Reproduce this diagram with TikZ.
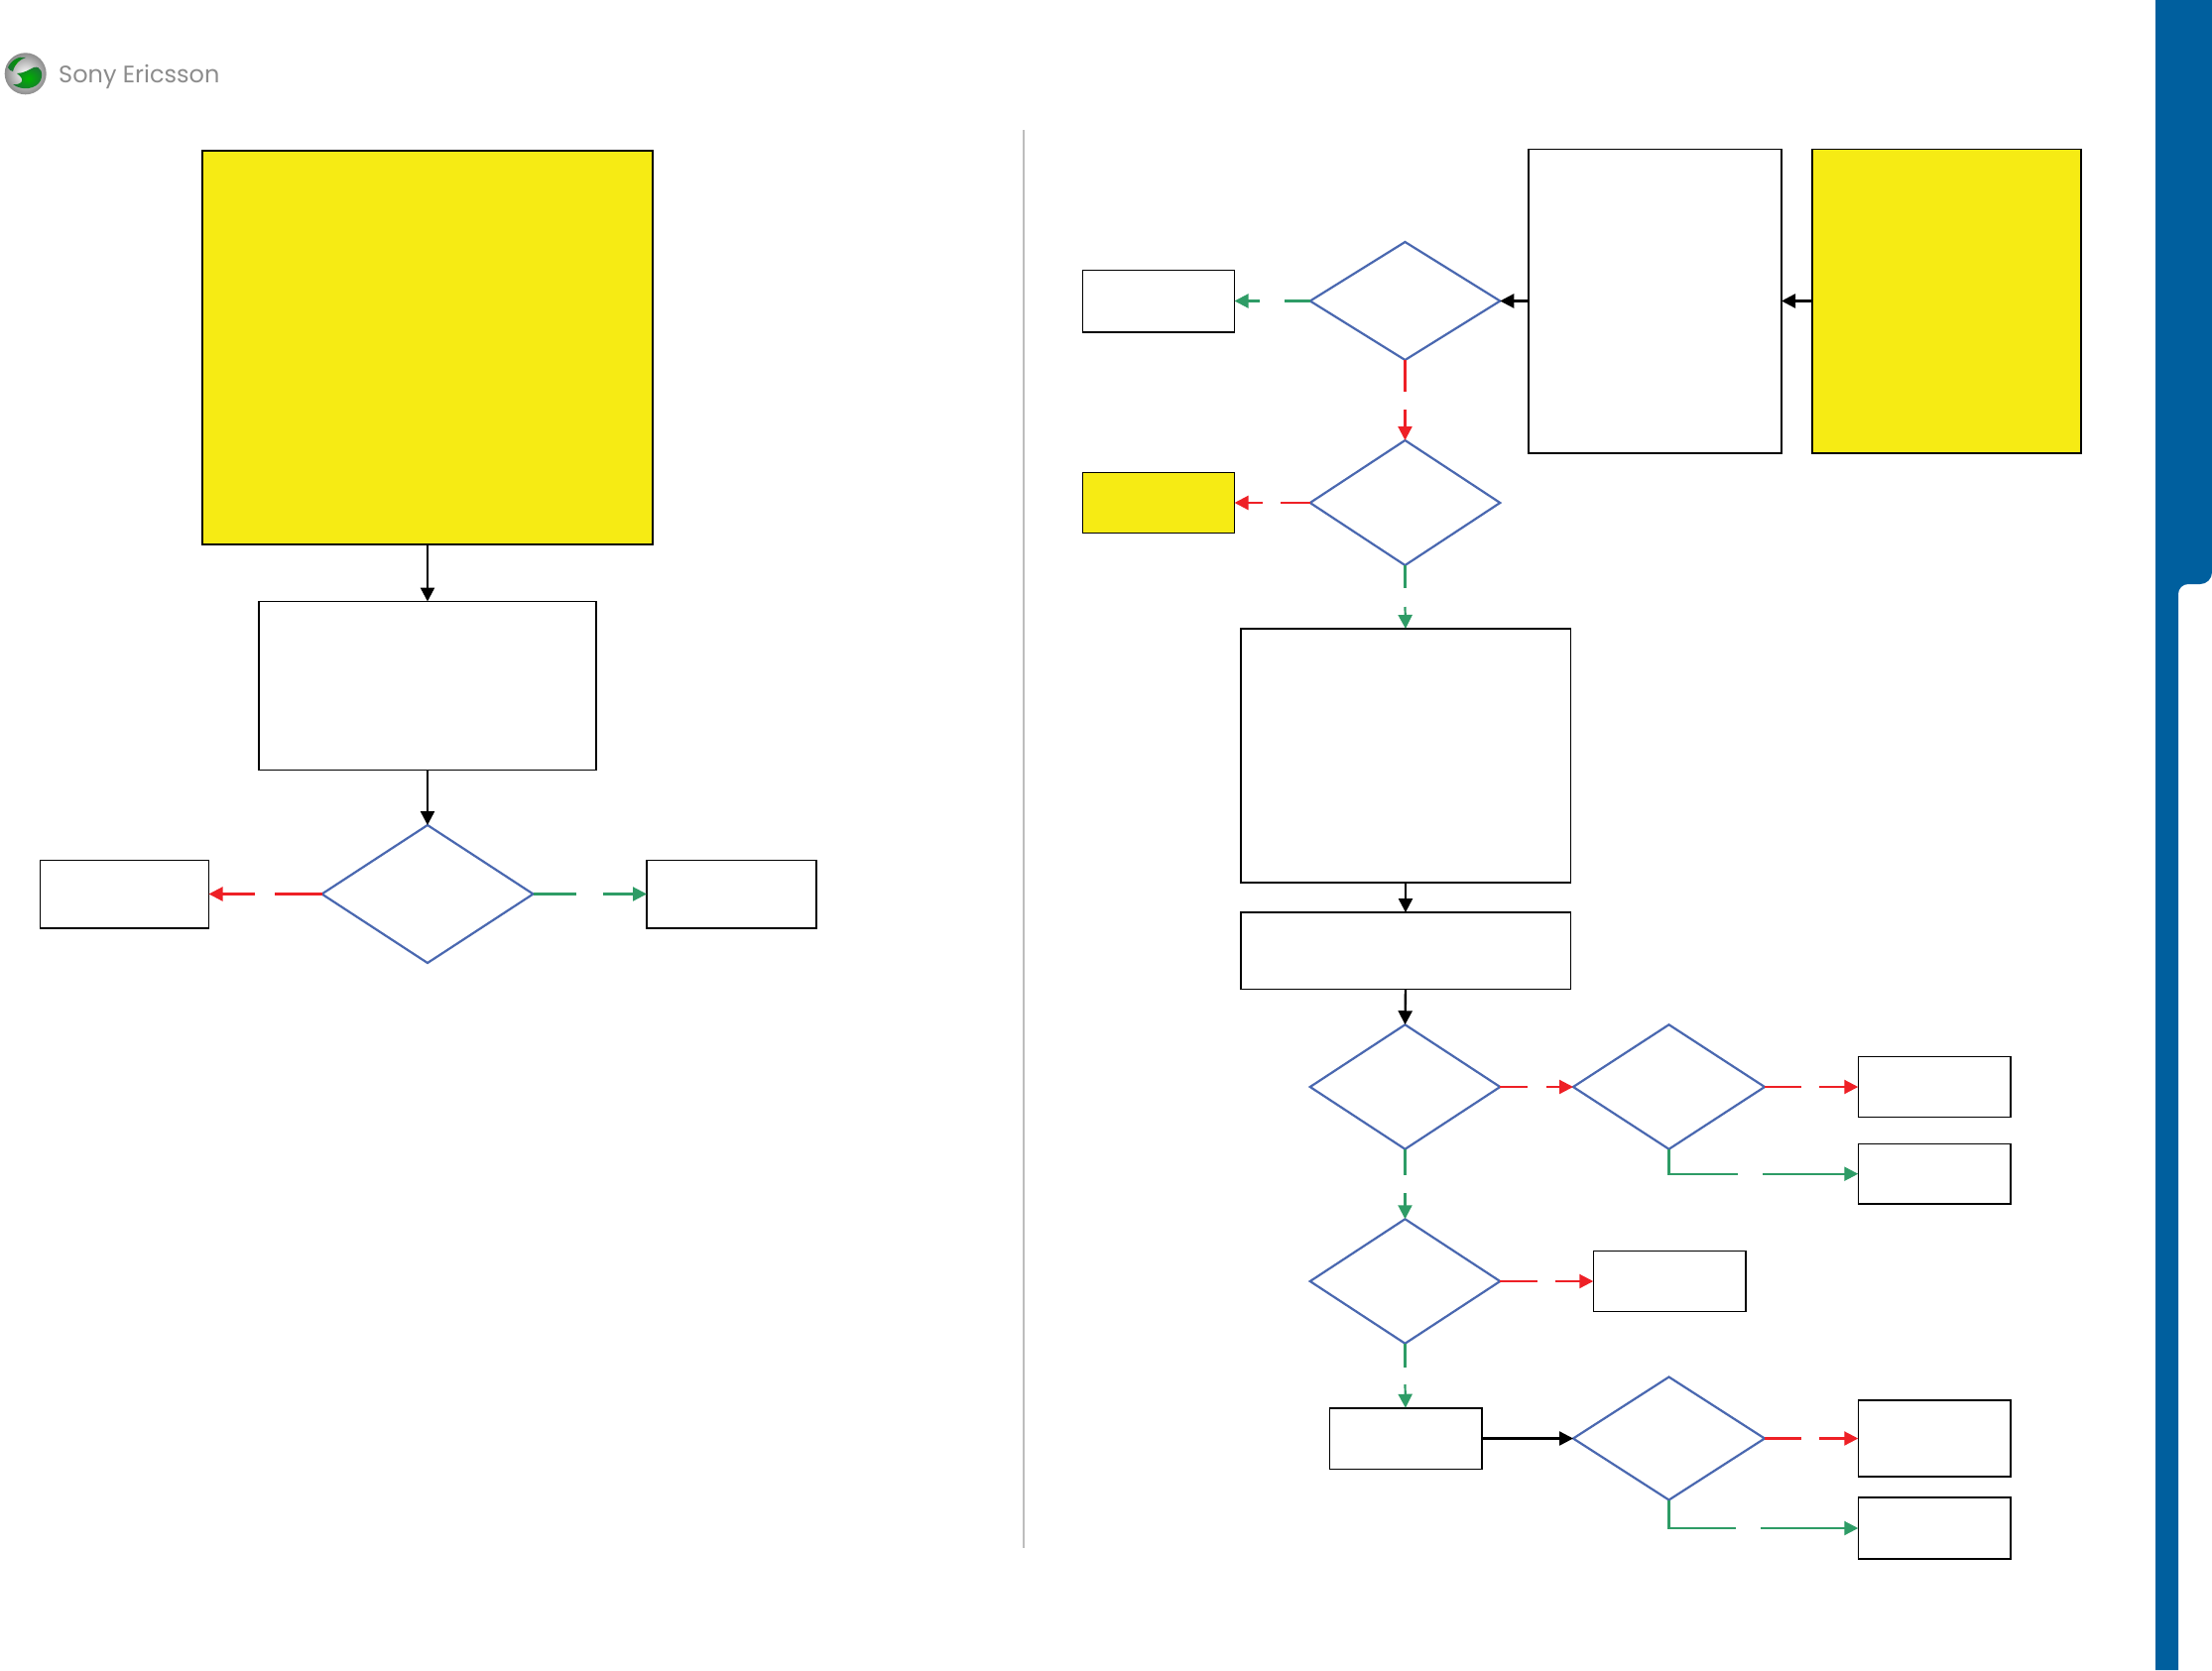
\documentclass[tikz,border=0pt]{standalone}
\usepackage{fontspec}
\setmainfont{Poppins}
\usetikzlibrary{shapes.geometric,arrows.meta}
\definecolor{seyellow}{HTML}{F6EB14}
\definecolor{seblue}{HTML}{4A68B0}
\definecolor{sered}{HTML}{EE2026}
\definecolor{segreen}{HTML}{2E9C66}
\definecolor{seband}{HTML}{005F9E}
\definecolor{segrey}{HTML}{BDBDBD}
\definecolor{logogreen}{HTML}{1E8A3C}
\definecolor{logotext}{HTML}{8C8C8C}
\tikzset{
  plainbox/.style={draw=black,line width=1.5pt,fill=white,rectangle,inner sep=0pt,outer sep=0pt},
  yellowbox/.style={plainbox,fill=seyellow},
  decision/.style={draw=seblue,line width=2.2pt,fill=white,diamond,inner sep=0pt,outer sep=0pt},
  sized/.style n args={2}{minimum width=#1pt,minimum height=#2pt},
  tip/.style={-{Triangle[length=14pt,width=14pt]}},
  blackline/.style={draw=black,line width=2.4pt},
  redline/.style={draw=sered,line width=2.2pt},
  greenline/.style={draw=segreen,line width=2.2pt},
}
\begin{document}
\begin{tikzpicture}[x=1pt,y=-1pt]
\useasboundingbox (0,0) rectangle (2230,1684);
% side band
\fill[seband] (2173,0) -- (2230,0) -- (2230,577) arc[start angle=0,end angle=90,radius=12] -- (2206,589)
  arc[start angle=270,end angle=180,radius=10] -- (2196,1684) -- (2173,1684) -- cycle;
% logo
\shade[inner color=white,outer color=black!45] (25.7,74.3) circle[radius=21];
\shade[inner color=green!70!black,outer color=logogreen!85!black] (17,74) .. controls (24,74) and (30,70) .. (34,68)
  .. controls (41,66) and (44,74) .. (41,81) .. controls (37,90) and (22,92) .. (13,85)
  .. controls (21,86) and (27,81) .. (17,74) -- cycle;
\shade[inner color=green!60!black,outer color=logogreen!85!black] (8,68) .. controls (11,61) and (19,56) .. (26,58)
  .. controls (20,60) and (15,64) .. (13,72) .. controls (11,72) and (9,70) .. (8,68) -- cycle;
\node[anchor=west,inner sep=0pt,text=logotext,font=\fontsize{24}{24}\selectfont] (brand) at (59,77) {Sony Ericsson};
% divider
\coordinate (divtop) at (1032,131);
\coordinate (divbot) at (1032,1561);
\draw[segrey,line width=1.6pt] (divtop) -- (divbot);
% left column
\node[yellowbox,sized={454}{397}] (bigyellow) at (431,350.5) {};
\node[plainbox,sized={340}{170}] (leftwhite) at (431,691.5) {};
\node[decision,sized={213}{139},aspect=1.532] (leftdia) at (431,901.5) {};
\node[plainbox,sized={170}{68.5}] (leftno) at (125.5,901.5) {};
\node[plainbox,sized={171}{68.5}] (leftyes) at (737.5,901.5) {};
\draw[blackline,tip] (bigyellow.south) -- (leftwhite.north);
\draw[blackline,tip] (leftwhite.south) -- (leftdia.north);
\coordinate (g1a) at (277,901.5); \coordinate (g1b) at (257,901.5);
\draw[redline] (leftdia.west) -- (g1a);
\draw[redline,tip] (g1b) -- (leftno.east);
\coordinate (g2a) at (581,901.5); \coordinate (g2b) at (608,901.5);
\draw[greenline] (leftdia.east) -- (g2a);
\draw[greenline,tip] (g2b) -- (leftyes.west);
% right column top
\node[plainbox,sized={255}{306.5}] (tallwhite) at (1668.5,303.5) {};
\node[yellowbox,sized={271}{306.5}] (tallyellow) at (1962.5,303.5) {};
\node[decision,sized={191.5}{119},aspect=1.609] (d1) at (1416.5,303.5) {};
\node[plainbox,sized={153}{62.5}] (b1) at (1168,303.5) {};
\node[decision,sized={191.5}{126},aspect=1.52] (d2) at (1416.5,507) {};
\node[yellowbox,sized={153}{61}] (y1) at (1168,507) {};
\node[plainbox,sized={332.5}{256}] (bigwhite) at (1417,762) {};
\node[plainbox,sized={332.5}{77.5}] (midwhite) at (1417,958.8) {};
\draw[blackline,tip] (tallyellow.west) -- (tallwhite.east);
\draw[blackline,tip] (tallwhite.west) -- (d1.east);
\coordinate (g3a) at (1295,303.5); \coordinate (g3b) at (1270,303.5);
\draw[greenline] (d1.west) -- (g3a);
\draw[greenline,tip] (g3b) -- (b1.east);
\coordinate (g4a) at (1416.5,395); \coordinate (g4b) at (1416.5,413);
\draw[redline] (d1.south) -- (g4a);
\draw[redline,tip] (g4b) -- (d2.north);
\coordinate (g5a) at (1291,507); \coordinate (g5b) at (1273,507);
\draw[redline] (d2.west) -- (g5a);
\draw[redline,tip] (g5b) -- (y1.east);
\coordinate (g6a) at (1416.5,593); \coordinate (g6b) at (1416.5,612);
\draw[greenline] (d2.south) -- (g6a);
\draw[greenline,tip] (g6b) -- (bigwhite.north);
\draw[blackline,tip] (bigwhite.south) -- (midwhite.north);
% right column lower
\node[decision,sized={191.5}{125.5},aspect=1.526] (d3) at (1416.5,1096) {};
\node[decision,sized={193}{125.5},aspect=1.538] (d4) at (1682.5,1096) {};
\node[plainbox,sized={153.5}{61}] (r1) at (1950,1096) {};
\node[plainbox,sized={153.5}{60.5}] (r2) at (1950,1183.7) {};
\node[decision,sized={191.5}{125.5},aspect=1.526] (d5) at (1416.5,1292) {};
\node[plainbox,sized={153.5}{61}] (r3) at (1683,1292) {};
\node[plainbox,sized={153.5}{61.5}] (r4) at (1417,1450.5) {};
\node[decision,sized={193}{124},aspect=1.556] (d6) at (1682.5,1450.5) {};
\node[plainbox,sized={153.5}{77}] (r5) at (1950,1450.5) {};
\node[plainbox,sized={153.5}{62}] (r6) at (1950,1541) {};
\draw[blackline,tip] (midwhite.south) -- (d3.north);
\coordinate (g7a) at (1540,1096); \coordinate (g7b) at (1559,1096);
\draw[redline] (d3.east) -- (g7a);
\draw[redline,tip] (g7b) -- (d4.west);
\coordinate (g8a) at (1816,1096); \coordinate (g8b) at (1834,1096);
\draw[redline] (d4.east) -- (g8a);
\draw[redline,tip] (g8b) -- (r1.west);
\coordinate (g9a) at (1752,1183.7); \coordinate (g9b) at (1777,1183.7);
\draw[greenline] (d4.south) |- (g9a);
\draw[greenline,tip] (g9b) -- (r2.west);
\coordinate (g10a) at (1416.5,1185); \coordinate (g10b) at (1416.5,1203);
\draw[greenline] (d3.south) -- (g10a);
\draw[greenline,tip] (g10b) -- (d5.north);
\coordinate (g11a) at (1550,1292); \coordinate (g11b) at (1568,1292);
\draw[redline] (d5.east) -- (g11a);
\draw[redline,tip] (g11b) -- (r3.west);
\coordinate (g12a) at (1416.5,1379); \coordinate (g12b) at (1416.5,1396);
\draw[greenline] (d5.south) -- (g12a);
\draw[greenline,tip] (g12b) -- (r4.north);
\draw[blackline,tip] (r4.east) -- (d6.west);
\coordinate (g13a) at (1816,1450.5); \coordinate (g13b) at (1834,1450.5);
\draw[redline] (d6.east) -- (g13a);
\draw[redline,tip] (g13b) -- (r5.west);
\coordinate (g14a) at (1750,1541); \coordinate (g14b) at (1775,1541);
\draw[greenline] (d6.south) |- (g14a);
\draw[greenline,tip] (g14b) -- (r6.west);
\end{tikzpicture}
\end{document}
